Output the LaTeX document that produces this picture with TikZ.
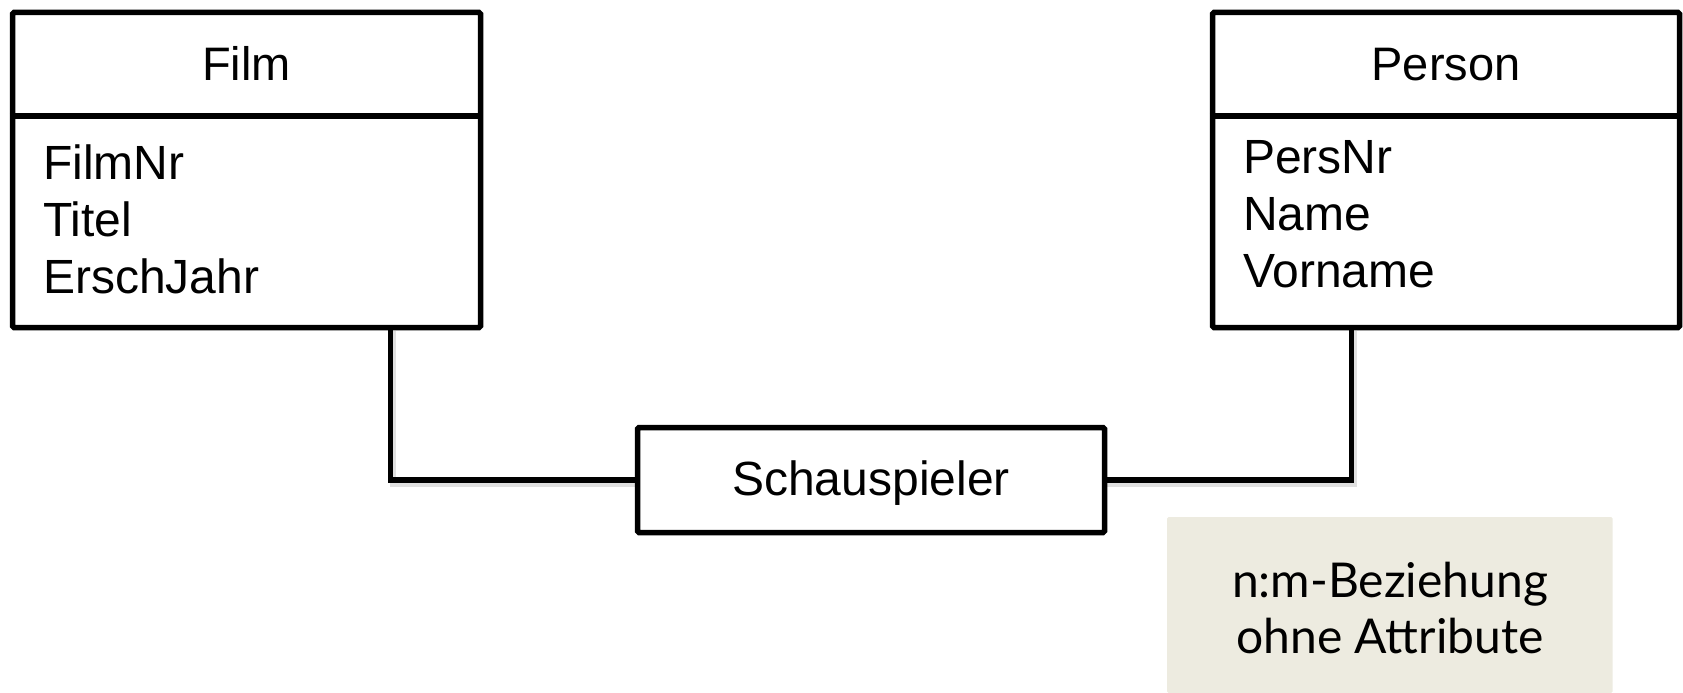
\documentclass[tikz,border=0pt]{standalone}
\usepackage{fontspec}
\setmainfont{Liberation Sans}
\newfontfamily\notefont{Lato}
\definecolor{notebg}{HTML}{EDEBE0}
\begin{document}
\begin{tikzpicture}[x=1pt,y=-1pt,
  entity/.style={draw, line width=5.5pt, rounded corners=1.5pt, inner sep=0pt, fill=white},
  divider/.style={line width=5.5pt},
  link/.style={line width=5.5pt, line cap=rect},
  linkshadow/.style={line width=6pt, draw=black, opacity=0.12},
  title/.style={anchor=base, inner sep=0pt, font=\fontsize{47}{56}\selectfont},
  attr/.style={anchor=base west, inner sep=0pt, font=\fontsize{48}{56}\selectfont},
  notetext/.style={anchor=base, inner sep=0pt, font=\notefont\fontsize{48}{56}\selectfont},
  note/.style={fill=notebg, rounded corners=1.5pt, inner sep=0pt}]
\useasboundingbox (0,0) rectangle (1683,693);

% connector end points on the entity boxes
\coordinate (fj) at (390.5,327.5);
\coordinate (pj) at (1351.5,327.5);

% soft shadows under the connectors
\draw[linkshadow] ([shift={(2,3)}]fj) |- (637.5,483.5);
\draw[linkshadow] (1104.5,483.5) -| ([shift={(2,3)}]pj);

% entity Film
\node[entity, minimum width=468pt, minimum height=315pt] (film) at (246.5,170) {};
\draw[divider] (film.west |- 0,116) -- (film.east |- 0,116);
\node[title] (filmtitle) at (246.5,81) {Film};
\node[attr] (filmnr) at (43,179) {FilmNr};
\node[attr] (titel) at (43,236) {Titel};
\node[attr] (erschjahr) at (43,293) {ErschJahr};

% entity Person
\node[entity, minimum width=467pt, minimum height=315pt] (person) at (1446,170) {};
\draw[divider] (person.west |- 0,116) -- (person.east |- 0,116);
\node[title] (persontitle) at (1446,81) {Person};
\node[attr] (persnr) at (1243,173) {PersNr};
\node[attr] (name) at (1243,230) {Name};
\node[attr] (vorname) at (1243,287) {Vorname};

% relationship Schauspieler
\node[entity, minimum width=467pt, minimum height=105pt] (rel) at (871,480) {};
\node[title, font=\fontsize{48}{56}\selectfont] (reltext) at (871,495) {Schauspieler};

% connectors
\draw[link] (fj) |- (rel.west);
\draw[link] (pj) |- (rel.east);

% note
\path[note] (1167,517) rectangle (1612.5,693);
\node[notetext] (note1) at (1390,597) {n:m-Beziehung};
\node[notetext] (note2) at (1390,653) {ohne Attribute};
\end{tikzpicture}
\end{document}
